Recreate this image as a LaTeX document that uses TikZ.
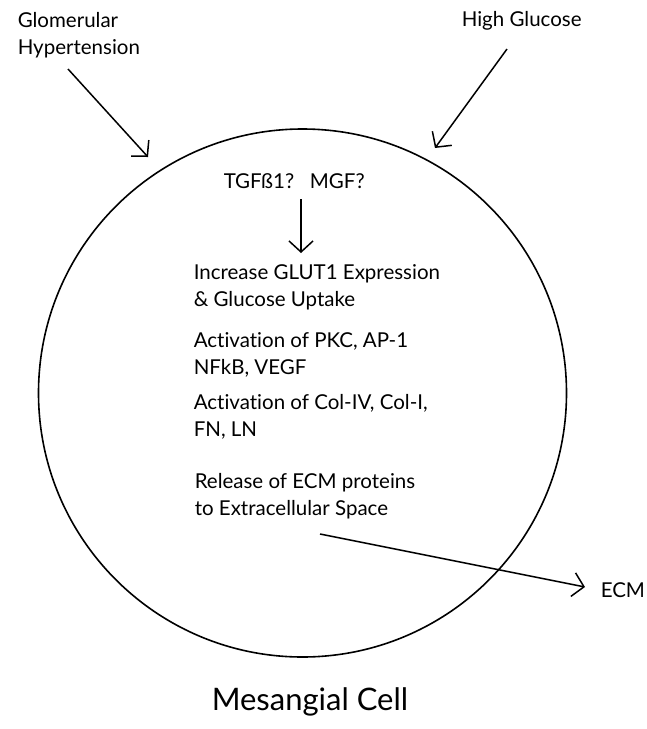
\documentclass[tikz,border=0pt]{standalone}
\usepackage{fontspec}
\setmainfont{Lato}[Ligatures=NoCommon]
\usetikzlibrary{arrows.meta}

\begin{document}
\begin{tikzpicture}[x=1pt,y=-1pt,line width=1.5pt,
        txt/.style={anchor=north west,inner sep=0pt,align=left,font=\fontsize{20.5}{26.5}\selectfont},
        barb/.style={-{Straight Barb[length=11pt,width=24pt]}}]
        \useasboundingbox (0,0) rectangle (646,729);

        \node[circle,draw,line width=1.6pt,minimum size=528pt,inner sep=0pt] (cell) at (302.5,393) {};

        \node[txt] (hyper) at (17,12) {Glomerular\\Hypertension};
        \node[txt] (glucose) at (461,11) {High Glucose};

        \node[txt] (tgf) at (223,173) {TGFß1?\ \ \ MGF?};
        \node[txt] (glut) at (193,264) {Increase GLUT1 Expression\\\& Glucose Uptake};
        \node[txt] (pkc) at (193,332) {Activation of PKC, AP-1\\NFkB, VEGF};
        \node[txt] (col) at (193,394) {Activation of Col-IV, Col-I,\\FN, LN};
        \node[txt] (release) at (194,473) {Release of ECM proteins\\to Extracellular Space};
        \node[txt] (ecm) at (600,582) {ECM};

        \node[anchor=north west,inner sep=0pt,font=\fontsize{31}{36}\selectfont] (label) at (211,687) {Mesangial Cell};

        \coordinate (hyperstart) at (68,69);
        \coordinate (hypertip) at (148,157);
        \coordinate (glucosestart) at (507,49);
        \coordinate (glucosetip) at (435,148);
        \coordinate (tgfstart) at (301,199);
        \coordinate (tgftip) at (301,253);
        \coordinate (releasestart) at (320,534);
        \coordinate (ecmtip) at (585,587);

        \draw[barb] (hyperstart) -- (hypertip);
        \draw[barb] (glucosestart) -- (glucosetip);
        \draw[barb] (tgfstart) -- (tgftip);
        \draw[barb] (releasestart) -- (ecmtip);

    \end{tikzpicture}
\end{document}
